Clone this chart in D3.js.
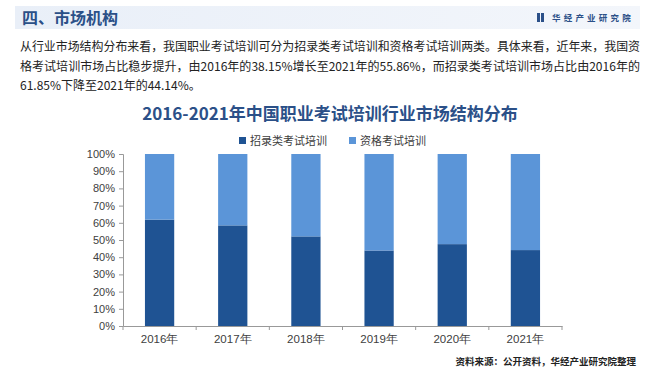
<!DOCTYPE html>
<html>
<head>
<meta charset="utf-8">
<script src="https://cdn.jsdelivr.net/npm/d3@7"></script>
<style>
  body { margin: 0; background: #fff; }
  svg { display: block; font-family: "Noto Sans CJK SC", "Noto Sans", sans-serif; }
</style>
</head>
<body>
<div id="chart"></div>
<script>
// data
const years = ['2016年', '2017年', '2018年', '2019年', '2020年', '2021年'];
const zhaolu = [61.85, 58.5, 52.1, 43.9, 47.6, 44.14];
const zige = zhaolu.map(v => 100 - v);
const seriesNames = ['招录类考试培训', '资格考试培训'];
const seriesColors = ['#1f5393', '#5b95d8'];
const yTicks = [0, 10, 20, 30, 40, 50, 60, 70, 80, 90, 100];

const paragraph = [
    '从行业市场结构分布来看，我国职业考试培训可分为招录类考试培训和资格考试培训两类。具体来看，近年来，我国资',
    '格考试培训市场占比稳步提升，由2016年的38.15%增长至2021年的55.86%，而招录类考试培训市场占比由2016年的',
    '61.85%下降至2021年的44.14%。'
];

let dim = { width: 660, height: 374 };
let svg = d3.select('#chart').append('svg')
    .attr('width', dim.width)
    .attr('height', dim.height);

// header band
let hdr = svg.append('defs').append('linearGradient').attr('id', 'hdr');
hdr.append('stop').attr('offset', '0%').attr('stop-color', '#e9eff8');
hdr.append('stop').attr('offset', '100%').attr('stop-color', '#f3f6fb');
svg.append('rect').attr('x', 15).attr('y', 6).attr('width', 625).attr('height', 23)
    .attr('fill', 'url(#hdr)');
svg.append('text').attr('x', 22).attr('y', 24)
    .attr('font-size', 16).attr('font-weight', 'bold').attr('fill', '#2b5088')
    .text('四、市场机构');
svg.append('rect').attr('x', 537).attr('y', 13).attr('width', 3).attr('height', 9).attr('fill', '#2b5088');
svg.append('rect').attr('x', 541).attr('y', 13).attr('width', 3).attr('height', 9).attr('fill', '#2b5088');
svg.append('text').attr('x', 552).attr('y', 21)
    .attr('font-size', 8.5).attr('font-weight', 'bold').attr('fill', '#2b5088')
    .attr('letter-spacing', 3.2)
    .text('华经产业研究院');

// paragraph
svg.append('g').selectAll('text')
    .data(paragraph)
    .join('text')
    .attr('x', 20)
    .attr('y', (d, i) => 51 + i * 19.5)
    .attr('font-size', 12)
    .attr('fill', '#222')
    .attr('textLength', (d, i) => i < 2 ? 620 : null)
    .attr('lengthAdjust', 'spacingAndGlyphs')
    .text(d => d);

// chart title
svg.append('text').attr('x', 330).attr('y', 120)
    .attr('text-anchor', 'middle')
    .attr('font-size', 17).attr('font-weight', 'bold').attr('fill', '#2b5088')
    .text('2016-2021年中国职业考试培训行业市场结构分布');

// legend
let legend = svg.append('g').selectAll('g')
    .data(seriesNames)
    .join('g')
    .attr('transform', (d, i) => `translate(${239 + i * 110},141)`);
legend.append('rect').attr('x', 0).attr('y', -4).attr('width', 7).attr('height', 7)
    .attr('fill', (d, i) => seriesColors[i]);
legend.append('text').attr('x', 11).attr('y', 4)
    .attr('font-size', 11).attr('fill', '#404040')
    .text(d => d);

// scales
let x = d3.scaleBand().domain(years).range([123, 562]).paddingInner(0.6).paddingOuter(0.3);
let y = d3.scaleLinear().domain([0, 100]).range([326, 154]);

let stackData = years.map((yr, i) => ({ year: yr, a: zhaolu[i], b: zige[i] }));
let stacked = d3.stack().keys(['a', 'b'])(stackData);

let g = svg.append('g');
g.selectAll('g.series')
    .data(stacked)
    .join('g')
    .attr('class', 'series')
    .attr('fill', (d, i) => seriesColors[i])
    .selectAll('rect')
    .data(d => d)
    .join('rect')
    .attr('x', d => x(d.data.year))
    .attr('width', x.bandwidth())
    .attr('y', d => y(d[1]))
    .attr('height', d => y(d[0]) - y(d[1]));

// y axis
let yAxis = svg.append('g')
    .attr('transform', 'translate(123,0)')
    .call(d3.axisLeft(y).tickValues(yTicks).tickFormat(d => d + '%').tickSize(4).tickPadding(4));
yAxis.select('.domain').attr('stroke', '#999');
yAxis.selectAll('.tick line').attr('stroke', '#999');
yAxis.selectAll('text').attr('font-size', 11).attr('fill', '#404040')
    .attr('font-family', '"Liberation Sans", Arial, sans-serif');

// x axis
let xAxis = svg.append('g')
    .attr('transform', 'translate(0,326)')
    .call(d3.axisBottom(x).tickSize(0).tickPadding(9));
xAxis.select('.domain').attr('stroke', '#999');
xAxis.selectAll('text').attr('font-size', 11.5).attr('fill', '#404040');
let step = x.step();
xAxis.selectAll('line.sep')
    .data(d3.range(years.length + 1))
    .join('line')
    .attr('class', 'sep')
    .attr('x1', i => 123 + i * step).attr('x2', i => 123 + i * step)
    .attr('y1', 0).attr('y2', 4)
    .attr('stroke', '#999');

// source note
svg.append('text').attr('x', 636).attr('y', 365)
    .attr('text-anchor', 'end')
    .attr('font-size', 9.5).attr('font-weight', 'bold').attr('fill', '#222')
    .text('资料来源：公开资料，华经产业研究院整理');
</script>
</body>
</html>
